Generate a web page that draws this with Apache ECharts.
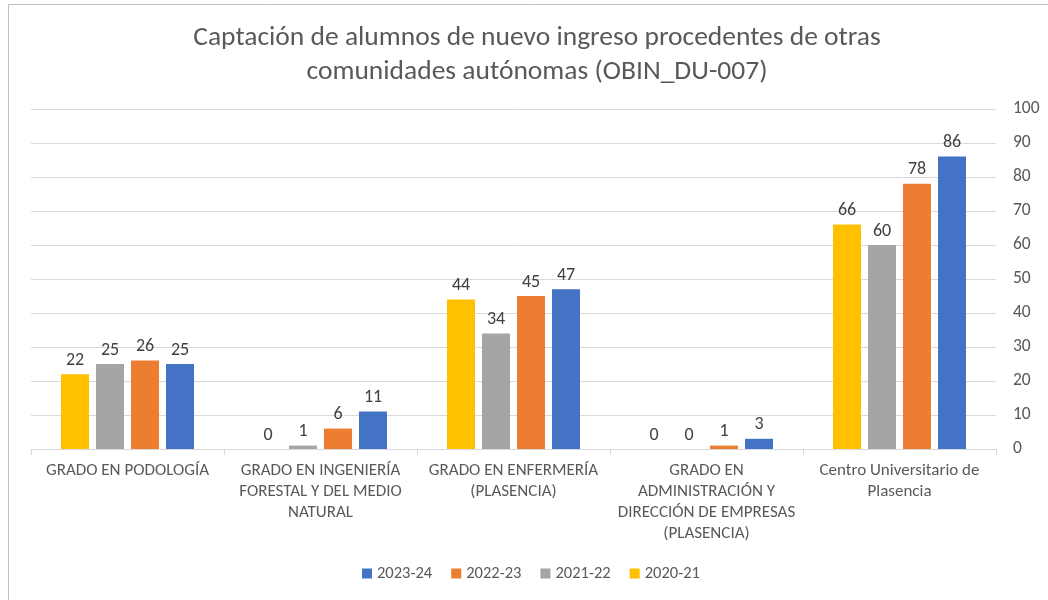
<!DOCTYPE html>
<html>
<head>
<meta charset="utf-8">
<script src="https://cdn.jsdelivr.net/npm/echarts@6/dist/echarts.min.js"></script>
<style>
  html, body { margin: 0; padding: 0; background: #fff; }
  #chart { width: 1048px; height: 600px; }
</style>
</head>
<body>
<div id="chart"></div>
<script>
const categories = [
  "GRADO EN PODOLOGÍA",
  "GRADO EN INGENIERÍA\nFORESTAL Y DEL MEDIO\nNATURAL",
  "GRADO EN ENFERMERÍA\n(PLASENCIA)",
  "GRADO EN\nADMINISTRACIÓN Y\nDIRECCIÓN DE EMPRESAS\n(PLASENCIA)",
  "Centro Universitario de\nPlasencia",
];
const values2020 = [22, 0, 44, 0, 66];
const values2021 = [25, 1, 34, 0, 60];
const values2022 = [26, 6, 45, 1, 78];
const values2023 = [25, 11, 47, 3, 86];
const legendOrder = ["2023-24", "2022-23", "2021-22", "2020-21"];

const FONT = "Calibri, Carlito, 'Liberation Sans Narrow', 'Open Sans', sans-serif";
const TEXT = "#595959";

const chart = echarts.init(document.getElementById("chart"));

function barSeries(name, data, color) {
  return {
    name,
    type: "bar",
    data,
    barWidth: 28,
    barGap: "25%",
    itemStyle: { color },
    label: {
      show: true,
      position: "top",
      distance: 5,
      color: "#404040",
      fontSize: 18,
      fontFamily: FONT,
    },
  };
}

chart.setOption({
  animation: false,
  backgroundColor: "#fff",
  textStyle: { fontFamily: FONT },
  title: {
    text: "Captación de alumnos de nuevo ingreso procedentes de otras\ncomunidades autónomas (OBIN_DU-007)",
    left: 532,
    top: 16,
    textAlign: "center",
    textStyle: {
      color: TEXT,
      fontSize: 27.5,
      fontWeight: "normal",
      lineHeight: 34,
      fontFamily: FONT,
    },
  },
  graphic: [
    {
      type: "rect",
      shape: { x: 8.5, y: 4.5, width: 1100, height: 700 },
      style: { fill: "none", stroke: "#bfbfbf", lineWidth: 1 },
      silent: true,
    },
  ],
  legend: {
    data: legendOrder,
    bottom: 13,
    left: 357,
    itemWidth: 10,
    itemHeight: 10,
    itemGap: 19,
    icon: "rect",
    textStyle: { color: TEXT, fontSize: 16.5, fontFamily: FONT },
  },
  grid: { left: 31, right: 52, top: 109, bottom: 151 },
  xAxis: {
    type: "category",
    data: categories,
    axisLine: { lineStyle: { color: "#d9d9d9" } },
    axisTick: { show: true, alignWithLabel: false, length: 6, lineStyle: { color: "#d9d9d9" } },
    axisLabel: {
      interval: 0,
      color: TEXT,
      fontSize: 17,
      lineHeight: 21,
      margin: 11,
      fontFamily: FONT,
    },
  },
  yAxis: {
    type: "value",
    position: "right",
    min: 0,
    max: 100,
    interval: 10,
    axisLine: { show: false },
    axisTick: { show: false },
    splitLine: { lineStyle: { color: "#d9d9d9" } },
    axisLabel: { color: TEXT, fontSize: 17.5, margin: 17, fontFamily: FONT },
  },
  series: [
    barSeries("2020-21", values2020, "#ffc000"),
    barSeries("2021-22", values2021, "#a5a5a5"),
    barSeries("2022-23", values2022, "#ed7d31"),
    barSeries("2023-24", values2023, "#4472c4"),
  ],
});

window.addEventListener("resize", () => chart.resize());
</script>
</body>
</html>
